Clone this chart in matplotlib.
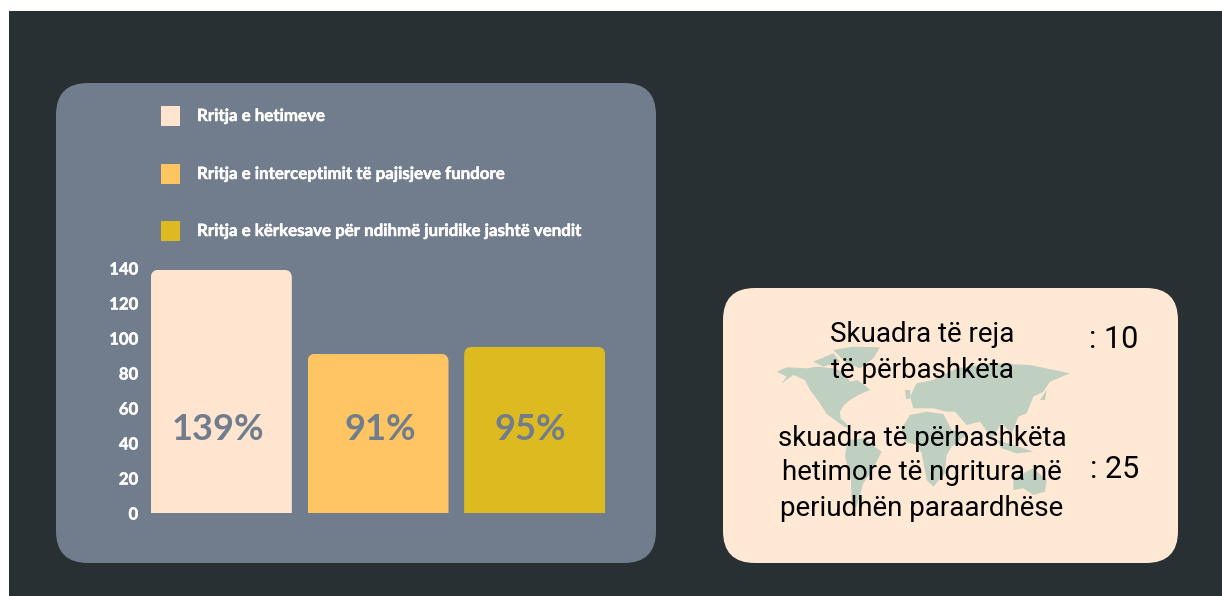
import matplotlib
matplotlib.use("Agg")
import matplotlib.pyplot as plt
import matplotlib.patheffects as pe
from matplotlib.patches import FancyBboxPatch, Rectangle, Polygon

# ---- data ----
series_labels = ["Rritja e hetimeve",
                 "Rritja e interceptimit të pajisjeve fundore",
                 "Rritja e kërkesave për ndihmë juridike jashtë vendit"]
series_values = [139, 91, 95]
bar_labels = ["139%", "91%", "95%"]
bar_colors = ["#FFE5D0", "#FFC562", "#DDBB20"]
y_ticks = [0, 20, 40, 60, 80, 100, 120, 140]
team_lines = ["Skuadra të reja", "të përbashkëta"]
team_value = ": 10"
joint_lines = ["skuadra të përbashkëta", "hetimore të ngritura në", "periudhën paraardhëse"]
joint_value = ": 25"

W, H = 1222, 596
DARK, SLATE, CREAM, MAP = "#293033", "#717D8C", "#FFE8D4", "#BFD0C0"
BOLDER = [pe.withStroke(linewidth=0.35, foreground="white")]

fig = plt.figure(figsize=(W / 100, H / 100), dpi=100, facecolor="white")

# canvas in pixel coordinates
bg = fig.add_axes([0, 0, 1, 1])
bg.set_xlim(0, W)
bg.set_ylim(H, 0)
bg.axis("off")
bg.add_patch(Rectangle((9, 11), W - 9, H - 11, fc=DARK, ec="none"))


def panel(x0, y0, x1, y1, r, color):
    bg.add_patch(FancyBboxPatch((x0 + r, y0 + r), x1 - x0 - 2 * r, y1 - y0 - 2 * r,
                                boxstyle=f"round,pad={r},rounding_size={r}",
                                fc=color, ec="none", mutation_aspect=1))


panel(56, 83, 656, 563, 32, SLATE)
panel(723, 288, 1178, 563, 32, CREAM)

# decorative world map (outline traced in a 3x crop of the panel)
land = [
    [(190, 30), (250, 20), (330, 22), (310, 55), (270, 85), (230, 70)],
    [(130, 65), (190, 40), (210, 65), (160, 80)],
    [(20, 95), (50, 82), (110, 85), (140, 80), (190, 85), (220, 95), (240, 125), (262, 120), (290, 140),
     (300, 150), (265, 165), (240, 180), (222, 195), (210, 215), (212, 235), (240, 262), (225, 262),
     (195, 240), (170, 222), (150, 190), (120, 150), (105, 120), (70, 105), (35, 130), (50, 110)],
    [(232, 300), (280, 295), (335, 335), (310, 385), (280, 430), (258, 505), (245, 490), (243, 420), (225, 350)],
    [(395, 265), (420, 225), (470, 215), (520, 222), (545, 270), (590, 285), (545, 320), (530, 345), (525, 400),
     (490, 440), (470, 420), (455, 340), (440, 315), (405, 305)],
    [(420, 170), (440, 130), (490, 120), (560, 85), (660, 70), (780, 75), (900, 100), (840, 125), (820, 155),
     (790, 170), (770, 220), (745, 230), (725, 280), (695, 250), (665, 295), (630, 245), (590, 255), (555, 215),
     (530, 215), (490, 205), (430, 205)],
    [(405, 150), (420, 150), (422, 175), (408, 178)],
    [(680, 300), (730, 315), (790, 335), (740, 340), (695, 325)],
    [(730, 415), (790, 385), (830, 420), (825, 455), (790, 465), (760, 445), (730, 450)],
    [(810, 180), (830, 150), (825, 180)],
    [(555, 390), (565, 370), (560, 402)],
]
for poly in land:
    bg.add_patch(Polygon([(770 + x / 3, 340 + y / 3) for x, y in poly], fc=MAP, ec="none", zorder=3))

# legend
for y, label, color in zip([116, 174, 231], series_labels, bar_colors):
    bg.add_patch(Rectangle((160.5, y - 10), 19, 19.5, fc=color, ec="none"))
    bg.text(197, y, label, color="white", fontsize=12.15, fontweight="bold",
            family="Lato", va="center", ha="left", path_effects=BOLDER)

# right panel text
for y, line in zip([335, 371], team_lines):
    bg.text(922, y, line, color="black", fontsize=20, family="Roboto", ha="center", va="center", zorder=4)
for y, line in zip([438, 473, 509], joint_lines):
    bg.text(922, y, line, color="black", fontsize=20, family="Roboto", ha="center", va="center", zorder=4)
bg.text(1114, 339, team_value, color="black", fontsize=22, family="Roboto", ha="center", va="center", zorder=4)
bg.text(1115, 469, joint_value, color="black", fontsize=22, family="Roboto", ha="center", va="center", zorder=4)

# bar chart
left, right, top, bottom = 143, 613, 268, 513
ax = fig.add_axes([left / W, 1 - bottom / H, (right - left) / W, (bottom - top) / H])
ax.patch.set_alpha(0)
positions = range(len(series_values))
bars = ax.bar(positions, series_values, width=0.9, color=bar_colors, linewidth=0)
ax.set_xlim(-0.5, 2.5)
ax.set_ylim(0, 140)
ax.set_xticks([])
ax.set_yticks(y_ticks)
ax.tick_params(axis="y", length=0, pad=3.5, labelcolor="white")
for t in ax.get_yticklabels():
    t.set_fontsize(12)
    t.set_fontweight("bold")
    t.set_family("Lato")
    t.set_path_effects(BOLDER)
for s in ax.spines.values():
    s.set_visible(False)

# round the top corners of each bar through a clip outline
fig.canvas.draw()
for bar in bars:
    box = bar.get_window_extent()
    r = 8
    clip = FancyBboxPatch((box.x0 + r, box.y0 + r - 20), box.width - 2 * r, box.height - 2 * r + 20,
                          boxstyle=f"round,pad={r},rounding_size={r}",
                          transform=None, fc="none", ec="none")
    bar.set_clip_path(clip.get_path(), clip.get_transform())

# the value labels sit slightly off-centre in the reference
label_shift = [-0.02, 0.012, -0.03]
for x, lab, dx in zip(positions, bar_labels, label_shift):
    ax.text(x + dx, 48, lab, color=SLATE, fontsize=26, fontweight="bold", family="Lato",
            ha="center", va="center")

fig.savefig("out.png", dpi=100, facecolor="white")
